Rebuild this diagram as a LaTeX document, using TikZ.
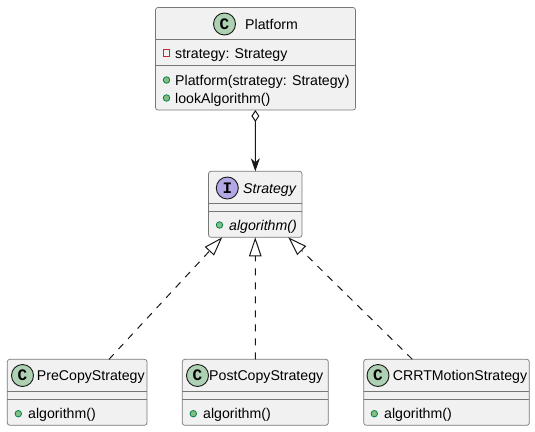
\documentclass[tikz,border=0pt]{standalone}
\usepackage{fontspec}
\setmainfont{Liberation Sans}
\newfontfamily\spotfont{Liberation Mono}
\usetikzlibrary{arrows.meta}
\definecolor{boxfill}{HTML}{F1F1F1}
\definecolor{boxline}{HTML}{181818}
\definecolor{sepcolor}{HTML}{777777}
\definecolor{classspot}{HTML}{ADD1B2}
\definecolor{ifacespot}{HTML}{B4A7E5}
\definecolor{pubfill}{HTML}{84BE84}
\definecolor{publine}{HTML}{038048}
\definecolor{privline}{HTML}{C82930}
\tikzset{
  umlbox/.style={draw=sepcolor, fill=boxfill, line width=0.7pt, rounded corners=2.5pt, inner sep=0pt, outer sep=0pt},
  sepline/.style={draw=sepcolor, line width=0.7pt},
  spot/.style={circle, draw=boxline, line width=0.9pt, minimum size=22pt, inner sep=0pt, font=\spotfont\bfseries\fontsize{16}{16}\selectfont},
  umltext/.style={anchor=base west, inner sep=0pt, font=\fontsize{14.15}{14}\selectfont},
  pubdot/.style={circle, draw=publine, fill=pubfill, line width=0.8pt, minimum size=6.5pt, inner sep=0pt},
  privbox/.style={draw=privline, line width=0.9pt, minimum size=6.5pt, inner sep=0pt},
  link/.style={draw=boxline, line width=1pt},
  impl/.style={link, dash pattern=on 7pt off 7pt, -{Triangle[open, length=19pt, width=12.5pt]}}
}
\begin{document}
\begin{tikzpicture}[x=1pt, y=-1pt]
  \useasboundingbox (0,0) rectangle (535,431);
  % Platform
  \node [umlbox, minimum width=200pt, minimum height=102.5pt] (platform) at (255.5,58.75) {};
  \draw [sepline] (155.5,39.5) -- (355.5,39.5);
  \draw [sepline] (155.5,65.5) -- (355.5,65.5);
  \node [spot, fill=classspot] (platformspot) at (224.5,24) {C};
  \node [umltext] (platformname) at (245,29) {Platform};
  \node [privbox] (strategyicon) at (166.5,53) {};
  \node [umltext] (strategyfield) at (175,58) {strategy: Strategy};
  \node [pubdot] (ctoricon) at (166.5,80) {};
  \node [umltext] (ctor) at (175,85) {Platform(strategy: Strategy)};
  \node [pubdot] (lookicon) at (166.5,98) {};
  \node [umltext] (look) at (175,103) {lookAlgorithm()};
  % Strategy
  \node [umlbox, minimum width=93.5pt, minimum height=66pt] (strategy) at (255.25,204.3) {};
  \draw [sepline] (208.5,203.3) -- (302,203.3);
  \draw [sepline] (208.5,211.3) -- (302,211.3);
  \node [spot, fill=ifacespot] (strategyspot) at (227.3,188) {I};
  \node [umltext] (strategyname) at (243,193) {\itshape Strategy};
  \node [pubdot] (algoicon) at (219.5,225) {};
  \node [umltext] (algo) at (229,230) {\itshape algorithm()};
  % PreCopyStrategy
  \node [umlbox, minimum width=139.7pt, minimum height=66pt] (precopy) at (77.15,392.3) {};
  \draw [sepline] (7.3,391.3) -- (147,391.3);
  \draw [sepline] (7.3,399.3) -- (147,399.3);
  \node [spot, fill=classspot] (precopyspot) at (22.5,375.5) {C};
  \node [umltext] (precopyname) at (36.7,380.7) {PreCopyStrategy};
  \node [pubdot] (precopyicon) at (18.3,413.7) {};
  \node [umltext] (precopyalgo) at (28,418.3) {algorithm()};
  % PostCopyStrategy
  \node [umlbox, minimum width=146pt, minimum height=66pt] (postcopy) at (255.3,392.3) {};
  \draw [sepline] (182.3,391.3) -- (328.3,391.3);
  \draw [sepline] (182.3,399.3) -- (328.3,399.3);
  \node [spot, fill=classspot] (postcopyspot) at (197.5,375.5) {C};
  \node [umltext] (postcopyname) at (209,380.7) {PostCopyStrategy};
  \node [pubdot] (postcopyicon) at (193.3,413.7) {};
  \node [umltext] (postcopyalgo) at (203,418.3) {algorithm()};
  % CRRTMotionStrategy
  \node [umlbox, minimum width=165.6pt, minimum height=66pt] (crrt) at (446.5,392.3) {};
  \draw [sepline] (363.7,391.3) -- (529.3,391.3);
  \draw [sepline] (363.7,399.3) -- (529.3,399.3);
  \node [spot, fill=classspot] (crrtspot) at (378,375.5) {C};
  \node [umltext] (crrtname) at (392.7,380.7) {CRRTMotionStrategy};
  \node [pubdot] (crrticon) at (374.3,413.7) {};
  \node [umltext] (crrtalgo) at (384,418.3) {algorithm()};
  % links
  \draw [link, {Diamond[open, length=12pt, width=8pt]}-{Stealth[length=13pt, width=9pt, inset=4pt]}] (platform) -- (strategy);
  \draw [impl] (precopy.46) -- (strategy.225);
  \draw [impl] (postcopy) -- (strategy);
  \draw [impl] (crrt.136) -- (strategy.315);
\end{tikzpicture}
\end{document}
